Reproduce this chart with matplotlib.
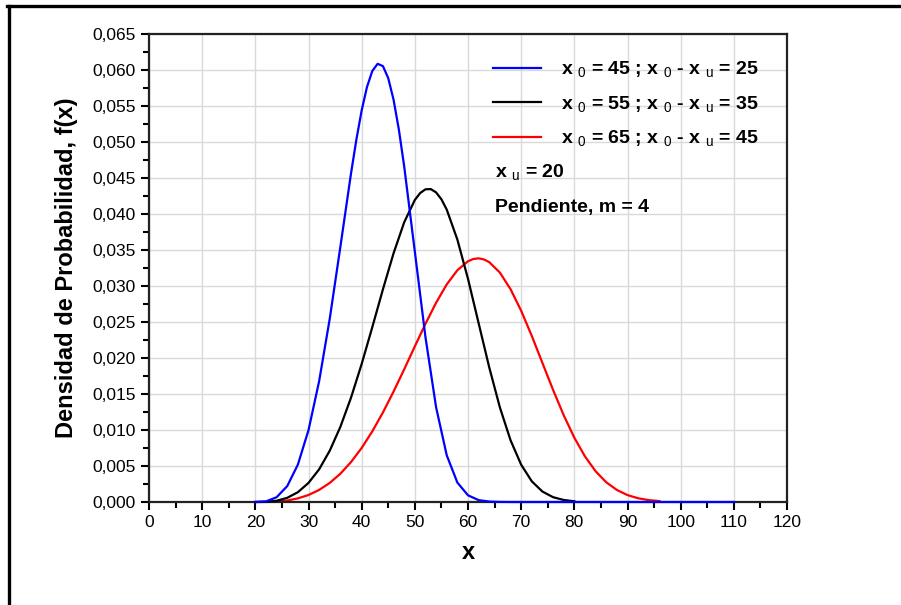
import numpy as np
import matplotlib
matplotlib.use('Agg')
import matplotlib.pyplot as plt
from matplotlib.lines import Line2D

plt.rcParams['font.family'] = 'Liberation Sans'
plt.rcParams['mathtext.fontset'] = 'custom'
plt.rcParams['mathtext.rm'] = 'Liberation Sans'

# curve values (x, f(x))
x_blue = [20, 22, 24, 26, 28, 30, 32, 34, 36, 38, 39, 40, 41, 42, 43, 44, 45,
          46, 47, 48, 50, 52, 54, 56, 58, 60, 62, 64, 66, 68, 110]
f_blue = [0.0, 0.00008, 0.00066, 0.00221, 0.00519, 0.00998, 0.01678, 0.02547,
          0.03547, 0.04565, 0.05031, 0.05439, 0.05764, 0.05986, 0.06086,
          0.06054, 0.05886, 0.05587, 0.05171, 0.04661, 0.03477, 0.02290,
          0.01315, 0.00649, 0.00270, 0.00093, 0.00026, 0.00006, 0.00001,
          0.0, 0.0]

x_black = [20, 22, 24, 26, 28, 30, 32, 34, 36, 38, 40, 42, 44, 46, 48, 50, 51,
           52, 53, 54, 55, 56, 58, 60, 62, 64, 66, 68, 70, 72, 74, 76, 78, 80]
f_black = [0.0, 0.00002, 0.00017, 0.00058, 0.00136, 0.00265, 0.00454, 0.00713,
           0.01045, 0.01450, 0.01917, 0.02428, 0.02954, 0.03455, 0.03885,
           0.04195, 0.04291, 0.04343, 0.04346, 0.04300, 0.04204, 0.04061,
           0.03645, 0.03099, 0.02483, 0.01868, 0.01313, 0.00858, 0.00518,
           0.00287, 0.00145, 0.00067, 0.00028, 0.00010]

x_red = [20, 22, 24, 26, 28, 30, 32, 34, 36, 38, 40, 42, 44, 46, 48, 50, 52,
         54, 56, 58, 60, 61, 62, 63, 64, 66, 68, 70, 72, 74, 76, 78, 80, 82,
         84, 86, 88, 90, 92, 94, 96]
f_red = [0.0, 0.00001, 0.00006, 0.00021, 0.00050, 0.00097, 0.00168, 0.00265,
         0.00393, 0.00555, 0.00751, 0.00981, 0.01244, 0.01534, 0.01843,
         0.02162, 0.02475, 0.02768, 0.03022, 0.03219, 0.03344, 0.03375,
         0.03384, 0.03369, 0.03331, 0.03186, 0.02956, 0.02656, 0.02306,
         0.01931, 0.01557, 0.01205, 0.00893, 0.00633, 0.00427, 0.00274,
         0.00167, 0.00096, 0.00052, 0.00026, 0.00013]

labels = [r'x $_\mathrm{0}$ = 45 ; x $_\mathrm{0}$ - x $_\mathrm{u}$ = 25',
          r'x $_\mathrm{0}$ = 55 ; x $_\mathrm{0}$ - x $_\mathrm{u}$ = 35',
          r'x $_\mathrm{0}$ = 65 ; x $_\mathrm{0}$ - x $_\mathrm{u}$ = 45']

xticks = [0, 10, 20, 30, 40, 50, 60, 70, 80, 90, 100, 110, 120]
yticks = [0.0, 0.005, 0.010, 0.015, 0.020, 0.025, 0.030, 0.035, 0.040,
          0.045, 0.050, 0.055, 0.060, 0.065]
ytick_labels = ['0,000', '0,005', '0,010', '0,015', '0,020', '0,025', '0,030',
                '0,035', '0,040', '0,045', '0,050', '0,055', '0,060', '0,065']

fig = plt.figure(figsize=(9.01, 6.05), dpi=100)
ax = fig.add_axes([149/901, 1 - 502/605, 638/901, 468/605])

ax.plot(x_blue, f_blue, color='#0000ff', lw=1.6, label=labels[0], zorder=4, clip_on=False)
ax.plot(x_black, f_black, color='black', lw=1.6, label=labels[1], zorder=3, clip_on=False)
ax.plot(x_red, f_red, color='#ff0000', lw=1.6, label=labels[2], zorder=2, clip_on=False)

ax.set_xlim(0, 120)
ax.set_ylim(0, 0.065)
ax.set_xticks(xticks)
ax.set_xticks(np.arange(5, 120, 10), minor=True)
ax.set_yticks(yticks)
ax.set_yticklabels(ytick_labels)
ax.set_yticks(np.arange(0.0025, 0.065, 0.005), minor=True)

ax.grid(True, which='major', color='#d9d9d9', lw=1.0)
ax.set_axisbelow(True)
ax.tick_params(which='major', direction='out', length=6, width=1.5, labelsize=12.5, color='black')
ax.tick_params(which='minor', direction='out', length=4, width=1.5)
for s in ax.spines.values():
    s.set_linewidth(1.6)
    s.set_color('#222222')

ax.set_xlabel('x', fontsize=17, fontweight='bold', labelpad=8)
ax.set_ylabel('Densidad de Probabilidad, f(x)', fontsize=17, fontweight='bold', labelpad=10)

ax.legend(loc='upper left', bbox_to_anchor=(0.539, 0.945), frameon=False,
          borderpad=0, borderaxespad=0, handlelength=2.5, handletextpad=1.0,
          labelspacing=0.73, prop={'size': 14, 'weight': 'bold'})

ax.text(0.542, 0.694, r'x $_\mathrm{u}$ = 20', transform=ax.transAxes,
        fontsize=14, fontweight='bold', va='baseline')
ax.text(0.542, 0.620, 'Pendiente, m = 4', transform=ax.transAxes,
        fontsize=14, fontweight='bold', va='baseline')

# outer frame (left and top only)
fig.add_artist(Line2D([8.5/901, 8.5/901], [0, 1 - 5.5/605], transform=fig.transFigure,
                      color='black', lw=2.4))
fig.add_artist(Line2D([7/901, 1], [1 - 5.5/605, 1 - 5.5/605], transform=fig.transFigure,
                      color='black', lw=2.4))

plt.savefig('out.png', dpi=100)
